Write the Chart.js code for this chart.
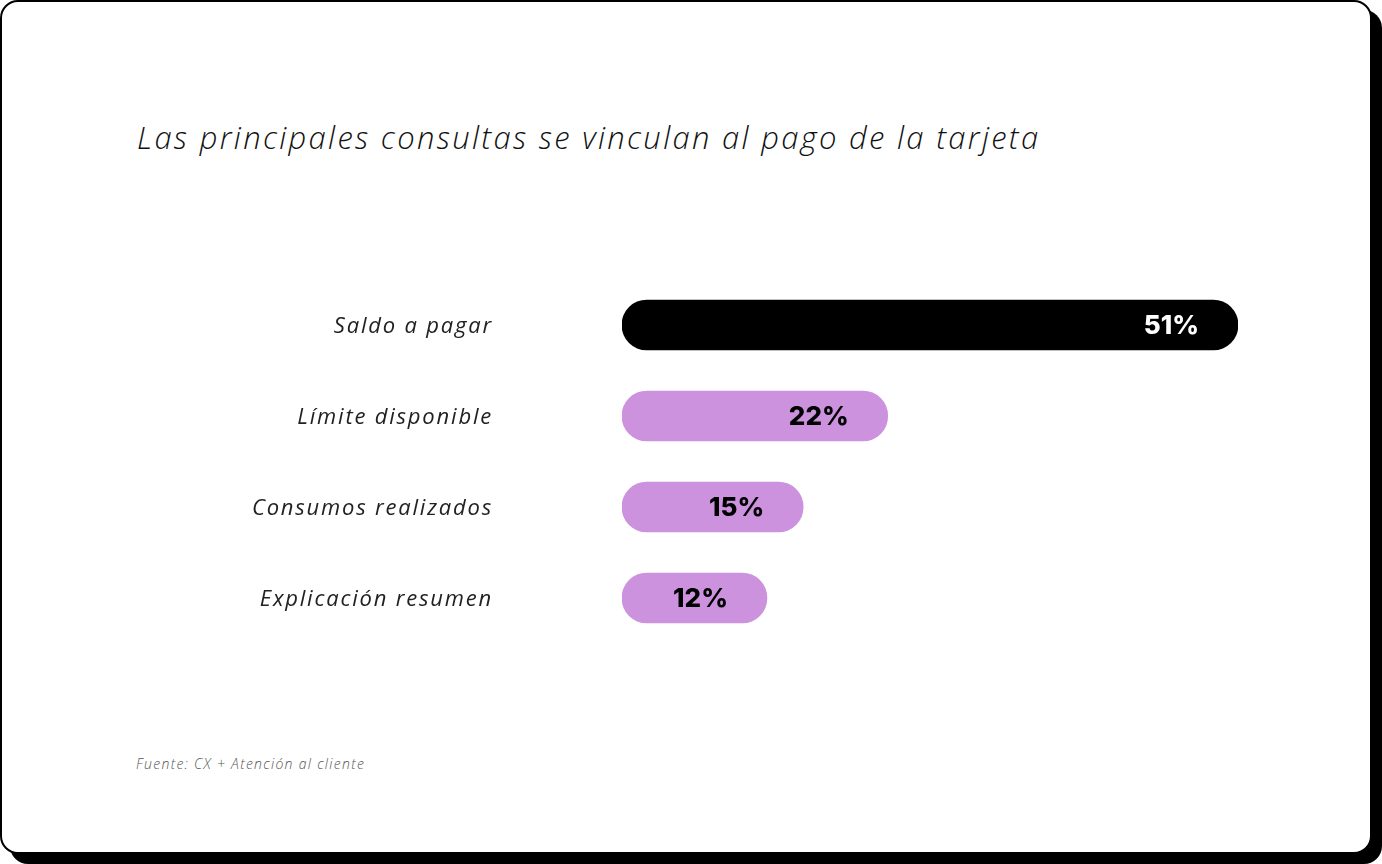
<!DOCTYPE html>
<html>
<head>
<meta charset="utf-8">
<script src="https://cdn.jsdelivr.net/npm/chart.js@4.4.0/dist/chart.umd.min.js"></script>
<style>
  html, body { margin: 0; padding: 0; background: #ffffff; width: 1382px; height: 864px; overflow: hidden; }
  .card {
    position: absolute; left: 0; top: 0; width: 1368px; height: 850px;
    border: 2px solid #000; border-radius: 18px; background: #fff;
    box-shadow: 10px 10px 0 0 #000;
  }
  .title {
    position: absolute; left: 137px; top: 116px; margin: 0;
    font-family: "Open Sans", sans-serif; font-weight: 300; font-style: italic;
    font-size: 31px; letter-spacing: 2.3px; color: #111; white-space: nowrap;
  }
  .source {
    position: absolute; left: 136px; top: 754px;
    font-family: "Open Sans", sans-serif; font-weight: 300; font-style: italic;
    font-size: 14px; letter-spacing: 1.3px; color: #555; white-space: nowrap;
  }
  #wrap { position: absolute; left: 0; top: 0; width: 1382px; height: 864px; }
</style>
</head>
<body>
<div class="card"></div>
<div class="title" id="title">Las principales consultas se vinculan al pago de la tarjeta</div>
<div class="source">Fuente: CX + Atención al cliente</div>
<div id="wrap"><canvas id="c" width="1382" height="864"></canvas></div>
<script>
const categories = ["Saldo a pagar", "Límite disponible", "Consumos realizados", "Explicación resumen"];
const values = [51, 22, 15, 12];
const valueLabels = ["51%", "22%", "15%", "12%"];
const barColors = ["#000000", "#cc92de", "#cc92de", "#cc92de"];
const labelColors = ["#ffffff", "#000000", "#000000", "#000000"];

const spacingPlugin = {
  id: "spacing",
  beforeDraw(chart) { chart.ctx.letterSpacing = "1.8px"; }
};

const valueLabelPlugin = {
  id: "valueLabels",
  afterDatasetsDraw(chart) {
    const ctx = chart.ctx;
    const meta = chart.getDatasetMeta(0);
    ctx.save();
    ctx.letterSpacing = "0px";
    ctx.font = "800 26px Inter, Roboto, sans-serif";
    ctx.textAlign = "right";
    ctx.textBaseline = "middle";
    meta.data.forEach((bar, i) => {
      ctx.fillStyle = labelColors[i];
      ctx.fillText(valueLabels[i], bar.x - 39, bar.y + 1);
    });
    ctx.restore();
  }
};

new Chart(document.getElementById("c"), {
  type: "bar",
  data: {
    labels: categories,
    datasets: [{
      data: values,
      backgroundColor: barColors,
      borderRadius: 25,
      borderSkipped: false,
      barThickness: 50
    }]
  },
  options: {
    indexAxis: "y",
    responsive: false,
    animation: false,
    layout: { padding: { left: 0, right: 144, top: 279.5, bottom: 220.5 } },
    plugins: { legend: { display: false }, tooltip: { enabled: false } },
    scales: {
      x: { display: false, min: 0, max: 51 },
      y: {
        grid: { display: false, drawTicks: false },
        border: { display: false },
        ticks: {
          padding: 129,
          labelOffset: 2,
          color: "#222",
          font: { family: "'Open Sans', sans-serif", size: 22, style: "italic", weight: 400 }
        },
        afterFit(scale) { scale.width = 622; }
      }
    }
  },
  plugins: [spacingPlugin, valueLabelPlugin]
});
</script>
</body>
</html>
